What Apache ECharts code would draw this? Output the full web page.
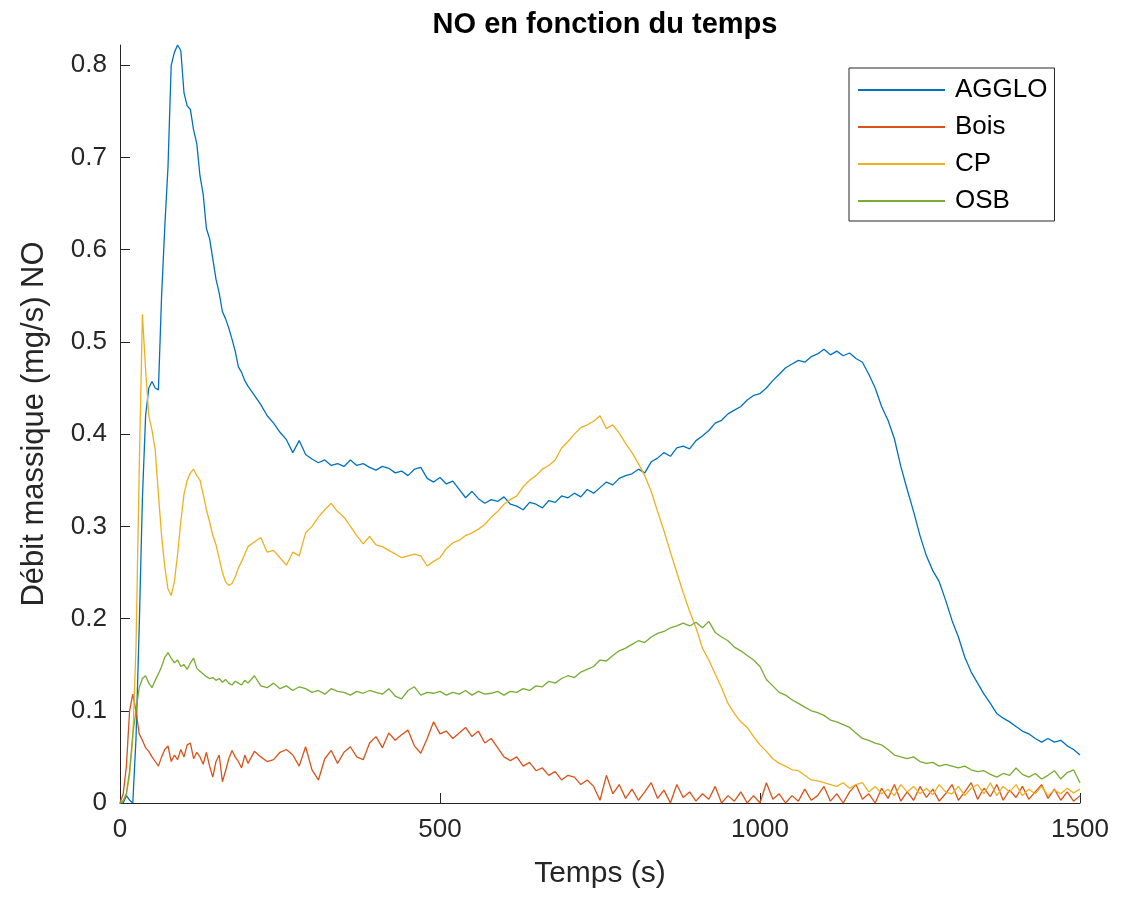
<!DOCTYPE html>
<html>
<head>
<meta charset="utf-8">
<script src="https://cdn.jsdelivr.net/npm/echarts@6/dist/echarts.min.js"></script>
<style>html,body{margin:0;padding:0;background:#fff;}#c{width:1142px;height:898px;}</style>
</head>
<body>
<div id="c"></div>
<script>
const seriesNames = ['AGGLO', 'Bois', 'CP', 'OSB'];
const xTicks = [0, 500, 1000, 1500];
const yTicks = [0, 0.1, 0.2, 0.3, 0.4, 0.5, 0.6, 0.7, 0.8];

const time = [
  0,5,10,15,20,25,30,35,40,45,
  50,55,60,65,70,75,80,85,90,95,
  100,105,110,115,120,125,130,135,140,145,
  150,155,160,165,170,175,180,185,190,195,
  200,
  210,220,230,240,250,260,270,280,290,300,
  310,320,330,340,350,360,370,380,390,400,
  410,420,430,440,450,460,470,480,490,500,
  510,520,530,540,550,560,570,580,590,600,
  610,620,630,640,650,660,670,680,690,700,
  710,720,730,740,750,760,770,780,790,800,
  810,820,830,840,850,860,870,880,890,900,
  910,920,930,940,950,960,970,980,990,1000,
  1010,1020,1030,1040,1050,1060,1070,1080,1090,1100,
  1110,1120,1130,1140,1150,1160,1170,1180,1190,1200,
  1210,1220,1230,1240,1250,1260,1270,1280,1290,1300,
  1310,1320,1330,1340,1350,1360,1370,1380,1390,1400,
  1410,1420,1430,1440,1450,1460,1470,1480,1490,1500
];

const agglo = [
  0,0,0.008,0.003,0,0.07,0.19,0.33,0.42,0.45,
  0.457,0.45,0.448,0.55,0.625,0.69,0.80,0.814,0.822,0.816,
  0.77,0.756,0.752,0.73,0.715,0.68,0.66,0.623,0.612,0.59,
  0.568,0.553,0.533,0.525,0.515,0.503,0.49,0.473,0.467,0.458,
  0.452,
  0.442,0.432,0.42,0.412,0.402,0.394,0.38,0.393,0.378,0.373,
  0.369,0.372,0.366,0.368,0.365,0.372,0.366,0.368,0.364,0.361,
  0.365,0.363,0.358,0.36,0.355,0.362,0.364,0.352,0.348,0.353,
  0.346,0.349,0.34,0.331,0.338,0.33,0.325,0.329,0.327,0.332,
  0.324,0.322,0.318,0.326,0.324,0.32,0.328,0.326,0.333,0.331,
  0.336,0.332,0.34,0.336,0.342,0.348,0.345,0.352,0.355,0.357,
  0.362,0.358,0.37,0.374,0.38,0.376,0.385,0.387,0.384,0.393,
  0.398,0.404,0.412,0.415,0.422,0.426,0.43,0.437,0.442,0.444,
  0.45,0.458,0.465,0.472,0.476,0.48,0.478,0.484,0.487,0.492,
  0.486,0.49,0.485,0.488,0.482,0.478,0.465,0.45,0.43,0.415,
  0.395,0.365,0.34,0.316,0.29,0.268,0.252,0.24,0.22,0.198,
  0.18,0.158,0.142,0.13,0.118,0.108,0.097,0.092,0.088,0.083,
  0.078,0.075,0.07,0.066,0.07,0.066,0.068,0.062,0.058,0.052
];

const bois = [
  0,0.01,0.04,0.1,0.118,0.1,0.075,0.068,0.06,0.056,
  0.05,0.045,0.04,0.05,0.058,0.062,0.045,0.052,0.047,0.058,
  0.05,0.063,0.065,0.048,0.055,0.05,0.042,0.055,0.04,0.028,
  0.045,0.052,0.023,0.035,0.048,0.057,0.05,0.045,0.038,0.052,
  0.043,
  0.056,0.05,0.045,0.047,0.055,0.058,0.052,0.04,0.061,0.036,
  0.025,0.048,0.057,0.043,0.055,0.061,0.05,0.047,0.065,0.072,
  0.06,0.076,0.068,0.074,0.079,0.062,0.054,0.07,0.088,0.075,
  0.078,0.07,0.076,0.082,0.072,0.078,0.065,0.07,0.06,0.05,
  0.046,0.05,0.04,0.044,0.035,0.038,0.03,0.034,0.025,0.03,
  0.028,0.02,0.025,0.018,0.003,0.03,0.01,0.02,0.005,0.015,
  0.003,0.012,0.022,0.005,0.014,0,0.02,0.006,0.012,0.002,
  0.01,0.004,0.018,0,0.008,0.002,0.012,0,0.008,0,
  0.022,0.004,0.01,0,0.008,0.002,0.015,0.003,0.008,0.018,
  0.002,0.01,0,0.012,0.02,0.004,0.01,0,0.016,0.005,
  0.02,0.002,0.012,0.003,0.018,0.006,0.015,0.002,0.01,0.02,
  0.003,0.012,0.022,0.004,0.016,0.007,0.02,0.003,0.014,0.006,
  0.018,0.004,0.012,0.02,0.005,0.015,0.003,0.012,0.002,0.008
];

const cp = [
  0,0.003,0.01,0.03,0.07,0.17,0.36,0.53,0.47,0.42,
  0.404,0.383,0.335,0.29,0.256,0.232,0.225,0.24,0.27,0.305,
  0.335,0.35,0.358,0.362,0.355,0.35,0.335,0.318,0.305,0.29,
  0.28,0.265,0.25,0.24,0.236,0.238,0.245,0.255,0.262,0.27,
  0.278,
  0.283,0.288,0.272,0.274,0.266,0.258,0.272,0.268,0.293,0.3,
  0.31,0.318,0.325,0.316,0.31,0.3,0.29,0.281,0.289,0.28,
  0.278,0.274,0.27,0.266,0.268,0.27,0.268,0.257,0.262,0.266,
  0.276,0.282,0.285,0.29,0.293,0.297,0.302,0.31,0.316,0.324,
  0.329,0.333,0.343,0.35,0.355,0.362,0.366,0.372,0.385,0.392,
  0.4,0.407,0.41,0.414,0.42,0.406,0.41,0.401,0.39,0.38,
  0.368,0.355,0.338,0.316,0.295,0.272,0.25,0.228,0.208,0.19,
  0.168,0.155,0.14,0.125,0.108,0.097,0.088,0.082,0.072,0.063,
  0.056,0.048,0.043,0.04,0.036,0.035,0.03,0.025,0.024,0.022,
  0.02,0.018,0.022,0.016,0.02,0.022,0.012,0.018,0.01,0.015,
  0.008,0.02,0.012,0.018,0.01,0.016,0.009,0.02,0.012,0.01,
  0.018,0.008,0.016,0.02,0.01,0.022,0.008,0.018,0.012,0.02,
  0.008,0.015,0.01,0.018,0.008,0.014,0.01,0.016,0.011,0.015
];

const osb = [
  0,0.002,0.01,0.035,0.075,0.1,0.125,0.135,0.138,0.13,
  0.125,0.133,0.14,0.148,0.158,0.163,0.157,0.152,0.155,0.148,
  0.15,0.145,0.152,0.157,0.146,0.143,0.14,0.137,0.135,0.136,
  0.133,0.135,0.131,0.134,0.13,0.128,0.132,0.13,0.128,0.133,
  0.13,
  0.138,0.127,0.125,0.13,0.124,0.127,0.122,0.126,0.124,0.12,
  0.122,0.118,0.124,0.121,0.12,0.117,0.121,0.119,0.122,0.12,
  0.118,0.124,0.116,0.113,0.122,0.126,0.117,0.12,0.119,0.121,
  0.117,0.12,0.118,0.122,0.117,0.121,0.118,0.119,0.121,0.117,
  0.121,0.12,0.124,0.122,0.127,0.126,0.132,0.13,0.135,0.138,
  0.136,0.142,0.145,0.148,0.155,0.154,0.16,0.165,0.168,0.172,
  0.176,0.174,0.18,0.184,0.186,0.19,0.192,0.195,0.192,0.196,
  0.19,0.197,0.185,0.18,0.176,0.169,0.165,0.16,0.155,0.148,
  0.134,0.127,0.12,0.117,0.112,0.108,0.104,0.1,0.098,0.095,
  0.09,0.088,0.085,0.082,0.076,0.07,0.068,0.065,0.063,0.058,
  0.052,0.05,0.048,0.05,0.045,0.043,0.044,0.04,0.042,0.04,
  0.038,0.04,0.036,0.034,0.035,0.031,0.028,0.032,0.03,0.038,
  0.031,0.028,0.032,0.026,0.03,0.035,0.026,0.033,0.036,0.022
];

const values = [agglo, bois, cp, osb];
const colors = ['#0072BD', '#D95319', '#EDB120', '#77AC30'];
const FONT = '"Liberation Sans", Arial, Helvetica, sans-serif';

const chart = echarts.init(document.getElementById('c'), null, {renderer: 'canvas'});
chart.setOption({
  animation: false,
  backgroundColor: '#ffffff',
  title: {
    text: 'NO en fonction du temps',
    left: 600,
    textAlign: 'center',
    top: 5,
    textStyle: {fontFamily: FONT, fontSize: 29, fontWeight: 'bold', color: '#000000'}
  },
  legend: {
    orient: 'vertical',
    left: 849,
    top: 68,
    padding: [9, 7, 7, 9],
    itemGap: 11,
    itemWidth: 87,
    itemHeight: 2,
    icon: 'rect',
    borderColor: '#262626',
    borderWidth: 1,
    backgroundColor: '#ffffff',
    data: seriesNames,
    textStyle: {fontFamily: FONT, fontSize: 26, color: '#000000', padding: [0, 0, 0, 5]}
  },
  grid: {left: 120, right: 62, top: 45, bottom: 95, containLabel: false},
  xAxis: {
    type: 'value',
    min: xTicks[0],
    max: xTicks[xTicks.length - 1],
    interval: 500,
    name: 'Temps (s)',
    nameLocation: 'middle',
    nameGap: 56,
    nameTextStyle: {fontFamily: FONT, fontSize: 30, color: '#262626'},
    axisLine: {show: true, lineStyle: {color: '#262626', width: 1}},
    axisTick: {show: true, inside: true, length: 10, lineStyle: {color: '#262626'}},
    axisLabel: {
      fontFamily: FONT, fontSize: 26, color: '#262626', margin: 14,
      formatter: function (v) { return String(v); }
    },
    splitLine: {show: false}
  },
  yAxis: {
    type: 'value',
    min: yTicks[0],
    max: 0.822,
    interval: 0.1,
    name: 'Débit massique (mg/s) NO',
    nameLocation: 'middle',
    nameGap: 70,
    nameTextStyle: {fontFamily: FONT, fontSize: 31, color: '#262626'},
    axisLine: {show: true, lineStyle: {color: '#262626', width: 1}},
    axisTick: {show: true, inside: true, length: 10, lineStyle: {color: '#262626'}},
    axisLabel: {
      fontFamily: FONT, fontSize: 26, color: '#262626', margin: 13,
      showMaxLabel: false,
      formatter: function (v) { return v === 0 ? '0' : (Math.round(v * 10) / 10).toFixed(1); }
    },
    splitLine: {show: false}
  },
  series: seriesNames.map(function (name, i) {
    return {
      name: name,
      type: 'line',
      symbol: 'none',
      showSymbol: false,
      color: colors[i],
      lineStyle: {color: colors[i], width: 1.3},
      data: time.map(function (t, k) { return [t, values[i][k]]; })
    };
  })
});
</script>
</body>
</html>
